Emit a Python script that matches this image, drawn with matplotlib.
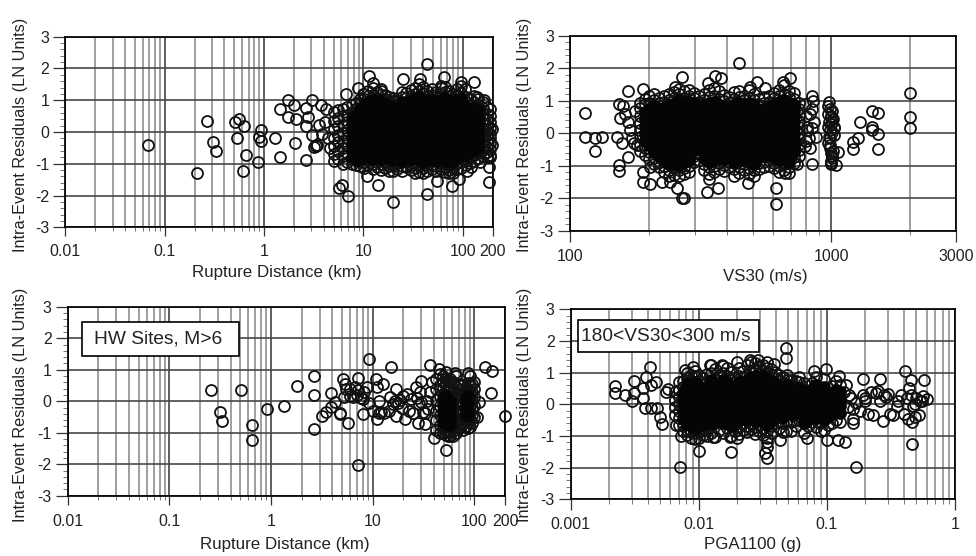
import matplotlib
matplotlib.use("Agg")
import matplotlib.pyplot as plt
from matplotlib.patches import Rectangle
from matplotlib.ticker import FixedLocator, NullFormatter

plt.rcParams['font.family'] = ['Liberation Sans', 'DejaVu Sans']
plt.rcParams['axes.unicode_minus'] = False

W, H = 976, 556
y_ticks = [-3, -2, -1, 0, 1, 2, 3]
y_tick_labels = ['-3', '-2', '-1', '0', '1', '2', '3']
y_label = 'Intra-Event Residuals (LN Units)'

# ---- Panel A: rupture distance, all data
a_x = [.0674,.21,.267,.31,.33,.505,.565,.625,.535,.66,.62,.875,.93,.88,.94,1.3,1.45,1.44,1.75,1.75,2.0,2.1,2.03,2.63,2.65,2.63,2.76,3.05,3.03,3.15,3.3,3.7,4.2,3.6,3.8,4.4,3.4,4.6,4.1,
       5.7,6.1,7.0,6.7,10.8,14,20,43.6,55,77,92,110,185,182,43.6,11.3,65,25,37,129,95,12.5,15,8.9,10,60,105,140,72,33,18,165,195,198,190,150,120]
a_y = [-.41,-1.28,.35,-.33,-.6,.33,.41,.19,-.2,-.73,-1.22,-.95,.06,-.15,-.27,-.2,-.8,.72,1.0,.47,.85,.41,-.35,-.87,.77,.19,.48,1.0,-.1,-.46,-.44,.85,.72,.22,-.05,-.2,-.4,-.5,.3,
       -1.75,-1.67,-2.03,1.2,-1.4,-1.67,-2.2,-1.95,-1.55,-1.69,-1.48,-1.22,-1.56,-1.1,2.15,1.76,1.74,1.67,1.67,1.56,1.56,1.53,1.35,1.4,1.2,1.45,1.35,1.1,-1.3,-1.28,-1.22,1.0,.1,-.4,-.8,-.95,-1.1]
a_cols = [5.0,5.6,6.2,6.9,7.6,8.4,9.2,10.2,11.2,12.4,13.7,15,16.5,18.2,20,22,24.5,27,30,33,36.5,40,44,49,54,60,66,73,80,88,97,107,118,130,143,158,175,190]
a_rows = [
 [-.92,-.7,-.45,-.2,.1,.35,.62],
 [-.85,-.6,-.33,-.08,.18,.44,.68],
 [-1.0,-.74,-.5,-.28,-.02,.22,.5,.72],
 [-.95,-.66,-.42,-.18,.06,.3,.52,.78],
 [-1.02,-.8,-.58,-.36,-.16,.04,.24,.44,.64,.84],
 [-1.05,-.88,-.66,-.46,-.26,-.06,.14,.34,.52,.72,.92],
 [-1.08,-.9,-.72,-.54,-.36,-.18,0,.18,.36,.54,.72,.9,1.05],
 [-1.12,-.96,-.8,-.63,-.46,-.3,-.13,.03,.2,.36,.53,.7,.86,1.03,1.2],
 [-1.05,-.88,-.72,-.55,-.38,-.22,-.05,.12,.28,.45,.62,.78,.95,1.12,1.3],
 [-1.18,-1.0,-.84,-.67,-.5,-.34,-.17,0,.16,.33,.5,.66,.83,1.0,1.16,1.38],
 [-1.1,-.93,-.76,-.6,-.43,-.26,-.1,.07,.24,.4,.57,.74,.9,1.07,1.25],
 [-1.2,-1.02,-.85,-.69,-.52,-.35,-.19,-.02,.15,.31,.48,.65,.81,.98,1.15,1.28],
 [-1.13,-.95,-.78,-.61,-.45,-.28,-.11,.05,.22,.39,.55,.72,.89,1.05,1.18],
 [-1.06,-.89,-.72,-.56,-.39,-.22,-.06,.11,.28,.44,.61,.78,.94,1.1],
 [-1.22,-1.04,-.87,-.7,-.53,-.37,-.2,-.03,.13,.3,.47,.63,.8,.97,1.08],
 [-1.16,-.98,-.81,-.64,-.48,-.31,-.14,.02,.19,.36,.52,.69,.86,1.02],
 [-1.24,-1.07,-.9,-.74,-.57,-.4,-.24,-.07,.1,.26,.43,.6,.76,.93,1.1,1.25],
 [-1.11,-.94,-.77,-.6,-.44,-.27,-.1,.06,.23,.4,.56,.73,.9,1.06,1.22],
 [-1.2,-1.03,-.86,-.69,-.53,-.36,-.19,-.03,.14,.31,.47,.64,.81,.97,1.14,1.32],
 [-1.14,-.97,-.8,-.63,-.47,-.3,-.13,.03,.2,.37,.53,.7,.87,1.03,1.2,1.4],
 [-1.25,-1.06,-.89,-.72,-.56,-.39,-.22,-.06,.11,.28,.44,.61,.78,.94,1.11,1.3,1.5],
 [-1.28,-1.12,-.95,-.78,-.62,-.45,-.28,-.12,.05,.22,.38,.55,.72,.88,1.05,1.22,1.42],
 [-1.22,-1.05,-.88,-.71,-.55,-.38,-.21,-.05,.12,.29,.45,.62,.79,.95,1.12,1.3],
 [-1.18,-1.0,-.83,-.66,-.5,-.33,-.16,0,.17,.34,.5,.67,.84,1.0,1.17,1.36],
 [-1.24,-1.08,-.91,-.74,-.58,-.41,-.24,-.08,.09,.26,.42,.59,.76,.92,1.09,1.26],
 [-1.15,-.98,-.81,-.64,-.48,-.31,-.14,.02,.19,.36,.52,.69,.86,1.02,1.19,1.38],
 [-1.26,-1.09,-.92,-.75,-.59,-.42,-.25,-.09,.08,.25,.41,.58,.75,.91,1.08,1.25,1.42],
 [-1.2,-1.03,-.86,-.69,-.53,-.36,-.19,-.03,.14,.31,.47,.64,.81,.97,1.14,1.3],
 [-1.3,-1.12,-.95,-.78,-.62,-.45,-.28,-.12,.05,.22,.38,.55,.72,.88,1.05,1.2],
 [-1.16,-.99,-.82,-.65,-.49,-.32,-.15,.01,.18,.35,.51,.68,.85,1.01,1.18,1.35],
 [-1.12,-.94,-.77,-.6,-.44,-.27,-.1,.06,.23,.4,.56,.73,.9,1.06,1.22,1.45],
 [-1.05,-.88,-.71,-.54,-.38,-.21,-.04,.12,.29,.46,.62,.79,.96,1.1],
 [-.98,-.8,-.64,-.47,-.31,-.14,.03,.19,.36,.53,.69,.86,1.03],
 [-.9,-.72,-.56,-.39,-.23,-.06,.11,.27,.44,.61,.77,.94,1.12],
 [-.82,-.66,-.49,-.32,-.16,.01,.18,.34,.51,.68,.84,1.05],
 [-.76,-.58,-.42,-.25,-.08,.08,.25,.42,.58,.75,.95],
 [-.8,-.62,-.46,-.28,-.1,.06,.22,.4,.56,.8],
 [-.72,-.55,-.36,-.2,-.05,.12,.3,.5,.72],
]
a_core = [(4, 6, 1, 2), (6, 33, 2, 2), (33, 35, 2, 2)]

# ---- Panel B: VS30, all data
b_x = [114,114,125,132,125,154,151,156,158,154,154,167,167,190,191,190,202,202,268,257,268,274,252,224,241,338,358,378,333,340,367,444,478,518,558,489,612,612,695,655,665,737,840,840,
       978,1000,1040,1065,1206,1206,1263,1290,1426,1506,1426,1430,1506,1506,2000,2000,2000,
       160,163,166,170,172,175,178,180,
       790,800,810,820,830,845,860,870,790,810,830,850,800,840,
       970,975,980,985,990,995,1000,1005,1010,1015,1020,1025,970,980,990,1000,1010,1020,975,985,995,1005,1015,1000,1000,1010,985]
b_y = [.62,-.1,-.13,-.1,-.55,.89,-.1,.46,-.31,-.96,-1.15,1.3,-.72,1.37,-1.18,-1.51,-1.56,-1.03,1.75,-1.68,-2.0,-2.0,1.44,-1.49,-1.49,1.54,1.78,1.7,-1.82,-1.42,-1.68,2.16,-1.54,1.57,1.41,1.44,-1.68,-2.19,1.7,1.59,-1.21,-.95,-.95,1.15,
       .98,-.95,-.98,-.57,-.48,-.26,-.15,.36,.7,.62,.2,.1,-.03,-.49,1.23,.49,.17,
       .85,.6,.35,.1,-.15,-.3,.7,-.35,
       .9,.55,.2,-.15,-.45,.75,.35,-.1,-.4,.1,.6,1.0,-.25,.15,
       .85,.6,.35,.1,-.15,.5,.3,.05,.7,.45,.2,-.05,.2,-.1,.75,.55,.35,.15,-.3,-.45,-.6,-.75,-.55,-.9,-.85,-.7,-.35]
b_cols = [185,193,201,210,219,229,240,250,262,273,285,298,311,325,340,355,371,388,405,423,442,462,483,505,528,552,577,603,630,658,688,719,751]
b_rows = [
 [-.55,-.35,-.12,.1,.33,.55,.78,.95],
 [-.68,-.46,-.22,0,.22,.44,.66,.9,1.05],
 [-.8,-.58,-.36,-.14,.08,.3,.52,.74,.95,1.15],
 [-.95,-.77,-.59,-.41,-.23,-.05,.13,.31,.49,.67,.85,1.03,1.2],
 [-1.05,-.87,-.69,-.51,-.33,-.15,.03,.21,.39,.57,.75,.93,1.1],
 [-1.2,-1.02,-.84,-.66,-.48,-.3,-.12,.06,.24,.42,.6,.78,.96,1.15],
 [-1.32,-1.12,-.94,-.76,-.58,-.4,-.22,-.04,.14,.32,.5,.68,.86,1.04,1.22],
 [-1.28,-1.08,-.9,-.72,-.54,-.36,-.18,0,.18,.36,.54,.72,.9,1.08,1.28],
 [-1.3,-1.14,-.96,-.78,-.6,-.42,-.24,-.06,.12,.3,.48,.66,.84,1.02,1.2,1.38],
 [-1.26,-1.06,-.88,-.7,-.52,-.34,-.16,.02,.2,.38,.56,.74,.92,1.1,1.3],
 [-1.18,-1.0,-.82,-.64,-.46,-.28,-.1,.08,.26,.44,.62,.8,.98,1.16,1.34],
 [-.88,-.7,-.52,-.34,-.16,.02,.2,.38,.56,.74,.92,1.1,1.25],
 [-.82,-.64,-.46,-.28,-.1,.08,.26,.44,.62,.8,.98,1.16],
 [-1.12,-.94,-.76,-.58,-.4,-.22,-.04,.14,.32,.5,.68,.86,1.04,1.22],
 [-1.25,-1.05,-.87,-.69,-.51,-.33,-.15,.03,.21,.39,.57,.75,.93,1.11,1.35],
 [-1.2,-1.0,-.82,-.64,-.46,-.28,-.1,.08,.26,.44,.62,.8,.98,1.16,1.4],
 [-1.1,-.92,-.74,-.56,-.38,-.2,-.02,.16,.34,.52,.7,.88,1.06,1.3],
 [-1.15,-.97,-.79,-.61,-.43,-.25,-.07,.11,.29,.47,.65,.83,1.01,1.19],
 [-1.05,-.87,-.69,-.51,-.33,-.15,.03,.21,.39,.57,.75,.93,1.11],
 [-1.3,-1.1,-.92,-.74,-.56,-.38,-.2,-.02,.16,.34,.52,.7,.88,1.06,1.28],
 [-1.22,-1.03,-.85,-.67,-.49,-.31,-.13,.05,.23,.41,.59,.77,.95,1.13,1.3],
 [-1.12,-.94,-.76,-.58,-.4,-.22,-.04,.14,.32,.5,.68,.86,1.04,1.15],
 [-1.25,-1.06,-.88,-.7,-.52,-.34,-.16,.02,.2,.38,.56,.74,.92,1.1,1.35],
 [-1.3,-1.12,-.94,-.76,-.58,-.4,-.22,-.04,.14,.32,.5,.68,.86,1.04,1.22],
 [-1.1,-.92,-.74,-.56,-.38,-.2,-.02,.16,.34,.52,.7,.88,1.06],
 [-1.05,-.87,-.69,-.51,-.33,-.15,.03,.21,.39,.57,.75,.93,1.11],
 [-1.0,-.82,-.64,-.46,-.28,-.1,.08,.26,.44,.62,.8,.98,1.15],
 [-1.08,-.9,-.72,-.54,-.36,-.18,0,.18,.36,.54,.72,.9,1.08,1.25],
 [-1.18,-1.0,-.82,-.64,-.46,-.28,-.1,.08,.26,.44,.62,.8,.98,1.16,1.35],
 [-1.12,-.94,-.76,-.58,-.4,-.22,-.04,.14,.32,.5,.68,.86,1.04,1.22,1.5],
 [-1.22,-1.05,-.87,-.69,-.51,-.33,-.15,.03,.21,.39,.57,.75,.93,1.11,1.3],
 [-.92,-.74,-.56,-.38,-.2,-.02,.16,.34,.52,.7,.88,1.06,1.25],
 [-.7,-.52,-.34,-.16,.02,.2,.38,.56,.74,.92],
]
b_core = [(1, 3, 2, 2), (3, 32, 2, 2)]

# ---- Panel C: rupture distance, hanging wall sites, M>6
c_x = [.257,.313,.33,.51,.65,.65,.915,1.34,1.78,2.65,2.65,2.65,3.2,3.45,3.9,3.9,4.3,4.75,4.8,5.7,5.1,5.3,5.2,6,6.4,7.2,7.2,7.2,8,9.2,8.1,8.7,9.2,10.8,11,11,11.4,12.7,11.6,13,15,14.7,17,17,17.7,21,21.6,25,26.7,27.8,30,30,33,32.9,36.6,40,45,53,55,62,65,87,128,150,145,200,
       14.5,16,18.5,19.5,20,22.5,24,27,28.5,29,31,34,35,37,38,110,105,12,10,6.7,7.6,8.3,6,5.5,7,16.4]
c_y = [.35,-.34,-.62,.34,-.75,-1.22,-.26,-.15,.47,.8,.19,-.88,-.48,-.34,.26,-.18,-.02,-.37,-.4,-.68,.69,.56,.14,.4,.14,.75,-2.03,.35,.08,1.35,-.41,.45,-.07,.69,.45,-.55,-.37,.54,.02,-.37,1.07,.14,.4,-.48,-.07,-.55,.24,-.39,.45,-.68,.63,-.02,-.71,-.39,1.14,-1.16,1.02,-1.56,-1.1,-1.1,.88,.88,1.07,.95,.26,-.48,
       -.3,-.1,.05,-.2,.15,-.3,.08,.1,-.1,.3,-.35,.0,-.25,.3,.6,-.02,-.5,-.35,-.3,.45,.1,.3,.15,.4,.2,.0]
c_cols = [42,46,49,52,55,58,62,66,70,74,78,82,86,90,94,98]
c_rows = [
 [-.9,-.6,-.3,.05,.4,.7],
 [-1.0,-.75,-.45,-.15,.15,.5,.85],
 [-1.02,-.84,-.66,-.48,-.3,-.12,.06,.24,.42,.6,.8],
 [-1.08,-.9,-.72,-.54,-.36,-.18,0,.18,.36,.54,.72,.92],
 [-.98,-.8,-.62,-.44,-.26,-.08,.1,.28,.46,.64],
 [-1.12,-.94,-.76,-.58,-.4,-.22,-.04,.14,.32,.5,.7],
 [-.95,-.7,-.45,-.2,.05,.3,.6],
 [-1.0,-.72,-.4,-.1,.2,.45,.8],
 [-.85,-.6,-.3,0,.25,.5],
 [-.78,-.55,-.32,-.1,.12,.35,.55],
 [-.9,-.7,-.5,-.3,-.1,.1,.3,.5],
 [-.8,-.62,-.44,-.26,-.08,.1,.28,.46],
 [-.85,-.65,-.45,-.25,-.05,.15,.35,.58],
 [-.82,-.58,-.36,-.14,.08,.3,.5,.8],
 [-.7,-.45,-.2,.05,.3,.55],
 [-.5,-.15,.12,.4,.62],
]
c_core = [(2, 6, 2, 4), (11, 13, 2, 2)]

# ---- Panel D: PGA1100, 180<VS30<300 m/s
d_x = [.00222,.00222,.00266,.0031,.0031,.003,.00417,.0039,.0046,.0037,.0042,.0037,.0038,.0042,.0047,.005,.0052,.0055,.0058,.0066,.0071,.0073,.01,.0178,.013,.0115,.0175,.0198,.034,.0328,.034,.034,.048,.048,.17,.465,.41,.45,.57,.26,.192,.6,.53,.49,.44,.38,.33,.275,.3,.29,.25,.22,.2,.21,.23,.49,.46,.43,.138,.122,.1,.09,.0695,.043,.048,.098,.08,.125,.14,.16,.16,.16,.025,.029,.02,.0153,.0122,.009,.0078,.034,.0385,
       .15,.17,.18,.19,.2,.24,.26,.28,.35,.4,.42,.45,.47,.5,.52,.55,.56,.36,.31,.145,.135,.155]
d_y = [.58,.37,.29,.75,.37,.1,1.17,.87,.72,.5,.6,.19,-.13,-.13,-.13,-.39,-.63,.4,.48,-.65,-1.99,-.99,-1.46,-1.52,-1.02,-1.0,-1.02,-1.07,-1.7,-1.55,-1.34,-1.18,1.79,1.45,-1.99,-1.25,1.06,.77,.77,.79,.79,.17,.1,.02,.5,.29,-.34,-.52,.32,.22,.42,.4,.2,-.3,-.35,-.39,-.55,-.45,-1.18,-1.13,-1.13,-.85,-1.07,-1.13,-.85,1.12,1.05,.9,.6,-.6,-.45,-.15,1.4,1.4,1.33,1.24,1.24,1.19,1.08,1.35,1.27,
       .3,.05,-.2,.3,.1,.35,.1,.3,-.05,-.3,.2,.3,-.05,.2,-.35,.1,.25,.1,-.32,-.1,.4,.2]
d_cols = [.0065,.007,.0075,.0081,.0087,.0093,.01,.0108,.0116,.0125,.0134,.0144,.0155,.0167,.0179,.0192,.0207,.0222,.0239,.0257,.0276,.0297,.0319,.0343,.0369,.0396,.0426,.0458,.0492,.0529,.0569,.0611,.0657,.0706,.0759,.0816,.0877,.0943,.1014,.109,.117,.126]
d_rows = [
 [-.35,-.1,.15,.38],
 [-.65,-.42,-.2,.02,.24,.46,.7],
 [-.85,-.65,-.45,-.25,-.05,.15,.35,.55,.75],
 [-.98,-.8,-.62,-.44,-.26,-.08,.1,.28,.46,.64,.82,1.0],
 [-1.05,-.87,-.69,-.51,-.33,-.15,.03,.21,.39,.57,.75,.93],
 [-1.1,-.92,-.74,-.56,-.38,-.2,-.02,.16,.34,.52,.7,.88,1.06],
 [-1.05,-.87,-.69,-.51,-.33,-.15,.03,.21,.39,.57,.75,.93],
 [-.98,-.8,-.62,-.44,-.26,-.08,.1,.28,.46,.64,.82],
 [-.75,-.52,-.3,-.1,.1,.3,.5,.7,.95],
 [-.9,-.62,-.35,-.12,.1,.32,.54,.76,1.0,1.25],
 [-1.02,-.6,-.3,-.08,.14,.36,.58,.8,1.1],
 [-.82,-.5,-.2,.04,.26,.48,.7,.92],
 [-.9,-.6,-.32,-.1,.12,.34,.56,.78,1.0,1.22],
 [-.75,-.45,-.2,.02,.24,.46,.68,.9,1.15],
 [-1.0,-.68,-.38,-.12,.1,.32,.54,.76,1.02],
 [-.85,-.55,-.3,-.06,.16,.38,.6,.82],
 [-.95,-.7,-.48,-.26,-.04,.18,.36,.54,.72,.9,1.15],
 [-.8,-.6,-.4,-.22,-.04,.14,.32,.5,.68,.86,1.05],
 [-.88,-.68,-.5,-.32,-.14,.04,.22,.4,.58,.76,.94,1.25],
 [-.78,-.58,-.4,-.22,-.04,.14,.32,.5,.68,.86,1.04,1.35],
 [-.95,-.72,-.54,-.36,-.18,0,.18,.36,.54,.72,.9,1.1,1.3],
 [-.85,-.64,-.46,-.28,-.1,.08,.26,.44,.62,.8,.98,1.2],
 [-.98,-.74,-.56,-.38,-.2,-.02,.16,.34,.52,.7,.88,1.06,1.25],
 [-1.05,-.84,-.64,-.46,-.28,-.1,.08,.26,.44,.62,.8,.98,1.15],
 [-.92,-.7,-.52,-.34,-.16,.02,.2,.38,.56,.74,.92,1.1],
 [-.6,-.42,-.24,-.06,.12,.3,.48,.66,.84,1.02],
 [-.75,-.52,-.32,-.14,.04,.22,.4,.58,.76,.94],
 [-.88,-.6,-.4,-.22,-.04,.14,.32,.5,.68,.86],
 [-.5,-.3,-.12,.06,.24,.42,.6,.78,.92],
 [-.85,-.55,-.32,-.14,.04,.22,.4,.58,.76],
 [-.7,-.48,-.26,-.06,.14,.34,.54,.74],
 [-.5,-.28,-.08,.12,.32,.52,.7,.85],
 [-.9,-.6,-.36,-.14,.06,.26,.46,.66],
 [-.7,-.45,-.22,-.02,.18,.38,.58],
 [-.55,-.32,-.12,.08,.28,.48,.68],
 [-.72,-.42,-.2,0,.2,.4,.6,.85],
 [-.6,-.36,-.14,.06,.26,.46],
 [-.82,-.48,-.24,-.04,.16,.36,.56,.8],
 [-.65,-.4,-.16,.06,.28,.5],
 [-.58,-.32,-.1,.12,.34,.58],
 [-.5,-.25,0,.22,.44,.75],
 [-.55,-.28,-.05,.18,.4,.62],
]
d_core = [(2, 8, 2, 2), (8, 16, 1, 2), (16, 32, 2, 2), (32, 42, 1, 1)]

# ---- Tick definitions
dist_ticks = [.01, .1, 1, 10, 100, 200]
dist_labels = ['0.01', '0.1', '1', '10', '100', '200']
dist_minor = [m*d for d in (.01, .1, 1, 10) for m in range(2, 10)]
vs_ticks = [100, 1000, 3000]
vs_labels = ['100', '1000', '3000']
vs_minor = [200, 300, 400, 500, 600, 700, 800, 900, 2000]
pga_ticks = [.001, .01, .1, 1]
pga_labels = ['0.001', '0.01', '0.1', '1']
pga_minor = [m*d for d in (.001, .01, .1) for m in range(2, 10)]


def split(xs, ys, cols, rows, core):
    """Open rings for all points; points buried inside the black cloud are drawn solid."""
    ox, oy = list(xs), list(ys)
    sx, sy = [], []
    for i, (c, r) in enumerate(zip(cols, rows)):
        lo, hi = 0, len(r)
        for a, b, tb, tt in core:
            if a <= i < b:
                lo, hi = tb, len(r) - tt
                break
        else:
            lo, hi = 0, 0
        for j, v in enumerate(r):
            if lo <= j < hi:
                sx.append(c); sy.append(v)
            else:
                ox.append(c); oy.append(v)
    return ox, oy, sx, sy


def panel(fig, box, xlim, ticks, labels, minor, xlab, xs, ys, cols, rows, core,
          ticklen, minorlen, pad, ylab_xy, xlab_y, lab_x):
    l, t, r, b = box
    ax = fig.add_axes([l/W, 1-b/H, (r-l)/W, (b-t)/H])
    ax.set_xscale('log')
    ax.set_xlim(*xlim)
    ax.set_ylim(-3, 3)
    ax.xaxis.set_major_locator(FixedLocator(ticks))
    ax.set_xticklabels(labels)
    ax.xaxis.set_minor_locator(FixedLocator(minor))
    ax.xaxis.set_minor_formatter(NullFormatter())
    ax.set_yticks(y_ticks)
    ax.set_yticklabels(y_tick_labels)
    ax.yaxis.set_minor_locator(FixedLocator([v/5 for v in range(-15, 16) if v % 5]))
    ax.grid(True, which='major', axis='y', color='#484848', lw=1.2, zorder=1)
    ax.grid(True, which='major', axis='x', color='#333333', lw=1.1, zorder=1)
    ax.grid(True, which='minor', axis='x', color='#8a8a8a', lw=1.15, zorder=1)
    ax.set_axisbelow(True)
    ax.tick_params(axis='x', which='major', length=ticklen*.72, width=.9, color='#333333',
                   labelsize=11.5, pad=pad)
    ax.tick_params(axis='x', which='minor', length=minorlen*.72, width=.7, color='#777777')
    ax.tick_params(axis='y', which='major', length=12*.72, width=.9, color='#333333',
                   labelsize=11.5, pad=3)
    ax.tick_params(axis='y', which='minor', length=5*.72, width=.7, color='#777777')
    for s in ax.spines.values():
        s.set_linewidth(1.25)
        s.set_color('black')
    ox, oy, sx, sy = split(xs, ys, cols, rows, core)
    ax.plot(ox, oy, ls='none', marker='o', ms=7.9, mfc='none', mec='#111111', mew=1.3,
            clip_on=False, zorder=3)
    ax.plot(sx, sy, ls='none', marker='o', ms=7.9, mfc='#050505', mec='#050505', mew=1.3,
            clip_on=False, zorder=3)
    fig.text(ylab_xy[0]/W, 1-ylab_xy[1]/H, y_label, rotation=90, ha='center', va='center',
             fontsize=11.7, color='#222222', zorder=6)
    fig.text(lab_x/W, 1-xlab_y/H, xlab, ha='center', va='center',
             fontsize=12.2, color='#222222')
    for lab in ax.get_xticklabels() + ax.get_yticklabels():
        lab.set_color('#222222')
    return ax


def note(fig, rect, text, shift):
    l, t, r, b = rect
    fig.add_artist(Rectangle((l/W, 1-b/H), (r-l)/W, (b-t)/H, transform=fig.transFigure,
                             fc='white', ec='black', lw=1.2, zorder=5))
    fig.text(((l+r)/2+shift)/W, 1-((t+b)/2+.5)/H, text, ha='center', va='center',
             fontsize=13.8, color='#222222', zorder=6)


fig = plt.figure(figsize=(W/100, H/100), dpi=100)
panel(fig, (65.3, 36.7, 492.7, 227.3), (.01, 200), dist_ticks, dist_labels, dist_minor,
      'Rupture Distance (km)', a_x, a_y, a_cols, a_rows, a_core, 9, 4, 5.2, (21, 135), 272, 277)
panel(fig, (570, 36, 956, 230.7), (100, 3000), vs_ticks, vs_labels, vs_minor,
      'VS30 (m/s)', b_x, b_y, b_cols, b_rows, b_core, 11, 4, 5.2, (525, 135), 277, 765)
panel(fig, (67.7, 306.7, 505, 495.7), (.01, 200), dist_ticks, dist_labels, dist_minor,
      'Rupture Distance (km)', c_x, c_y, c_cols, c_rows, c_core, 9, 4, 6.6, (21, 405), 545, 285)
panel(fig, (570.7, 309.3, 955, 499.3), (.001, 1), pga_ticks, pga_labels, pga_minor,
      'PGA1100 (g)', d_x, d_y, d_cols, d_rows, d_core, 11, 5, 4.5, (525, 405), 545, 753)
note(fig, (82, 322, 239, 356), 'HW Sites, M>6', -2)
note(fig, (577.7, 320, 759, 352), '180<VS30<300 m/s', -3)
fig.savefig('out.png', dpi=100)
